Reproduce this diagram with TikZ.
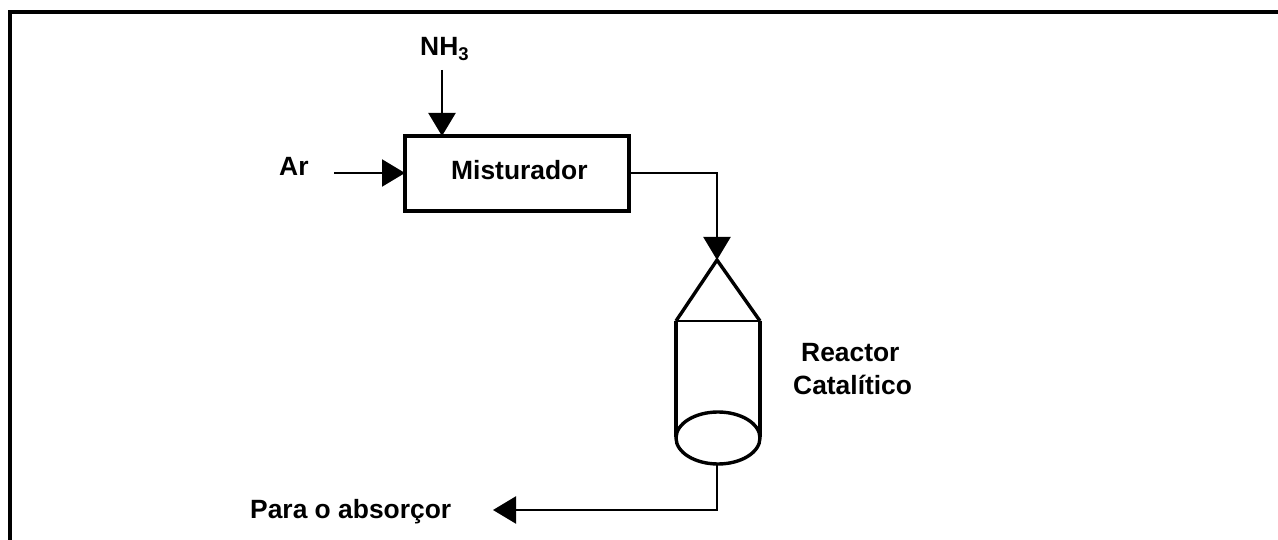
\documentclass[tikz,border=0pt]{standalone}
\usepackage{fontspec}
\setmainfont{Liberation Sans}
\usetikzlibrary{arrows.meta,shapes.geometric}
\tikzset{
  x=1pt,y=-1pt,
  lbl/.style={font=\bfseries\fontsize{26.4}{30}\selectfont,inner sep=0pt,anchor=base west},
  flow/.style={line width=2.2pt,-{Triangle[length=23pt,width=27pt]}},
  plain/.style={line width=2.2pt},
  heavy/.style={line width=3.4pt},
}
\begin{document}
\begin{tikzpicture}
\useasboundingbox (0,0) rectangle (1278,540);
\draw[line width=4pt] (10,540) -- (10,12) -- (1278,12);
\node[draw,line width=3.4pt,outer sep=0pt,minimum width=224pt,minimum height=75pt,inner sep=0pt,anchor=north west] (mix) at (405,136) {};
\node[lbl] (mixt) at (451,180) {Misturador};
\node[lbl] (nh3) at (420,56) {NH\textsubscript{3}};
\node[lbl] (ar) at (279,176) {Ar};
\coordinate (nh3s) at (442,70);
\coordinate (ars) at (334,173);
\draw[flow] (nh3s) -- (nh3s |- mix.north);
\draw[flow] (ars) -- (ars -| mix.west);
\coordinate (apex) at (717,260);
\coordinate (tl) at (676,321);
\coordinate (tr) at (760,321);
\coordinate (bl) at (676,437);
\coordinate (br) at (760,437);
\coordinate (outc) at (717,510);
\coordinate (oute) at (493,510);
\draw[flow] (ars -| mix.east) -- (ars -| apex) -- (apex);
\draw[heavy] (tl) -- (apex) -- (tr);
\draw[plain] (tl) -- (tr);
\draw[heavy] (tl) -- (bl);
\draw[heavy] (tr) -- (br);
\node[draw,ellipse,line width=3.4pt,outer sep=0pt,minimum width=84pt,minimum height=52pt,inner sep=0pt] (disc) at (718,438) {};
\draw[flow] (disc.south -| outc) -- (outc) -- (oute);
\node[lbl] (r1) at (801,361) {Reactor};
\node[lbl] (r2) at (793,394) {Catalítico};
\node[lbl] (pa) at (250,518) {Para o absorçor};
\end{tikzpicture}
\end{document}
